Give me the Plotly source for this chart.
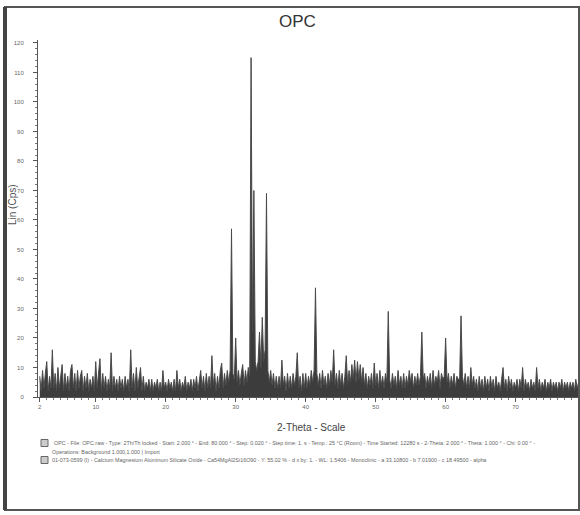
import plotly.graph_objects as go

# 2-Theta grid: 2.0 .. 79.8 step 0.2 (one row = 2 degrees)
two_theta_start = 2.0
two_theta_step = 0.2
intensity_rows = [
    [7, 2, 9, 3, 8, 12, 2, 7, 3, 16],        # 2.0 - 3.8
    [3, 8, 2, 10, 3, 7, 11, 2, 8, 3],        # 4.0 - 5.8
    [7, 2, 9, 11, 3, 8, 2, 9, 3, 7],         # 6.0 - 7.8
    [9, 2, 7, 3, 8, 2, 6, 3, 7, 2],          # 8.0 - 9.8
    [12, 3, 7, 13, 2, 8, 3, 7, 2, 6],        # 10.0 - 11.8
    [3, 15, 2, 7, 3, 6, 2, 7, 3, 6],         # 12.0 - 13.8
    [2, 7, 3, 6, 2, 16, 3, 8, 2, 10],        # 14.0 - 15.8
    [3, 6, 10, 2, 7, 2, 5, 3, 6, 2],         # 16.0 - 17.8
    [6, 2, 5, 3, 6, 2, 5, 2, 9, 3],          # 18.0 - 19.8
    [5, 2, 6, 3, 5, 2, 6, 2, 9, 3],          # 20.0 - 21.8
    [6, 2, 5, 3, 7, 2, 5, 3, 6, 2],          # 22.0 - 23.8
    [6, 3, 7, 2, 6, 9, 3, 7, 2, 8],          # 24.0 - 25.8
    [3, 7, 3, 14, 4, 8, 2, 7, 3, 9],         # 26.0 - 27.8
    [11.5, 3, 8, 4, 9, 5, 9, 57, 8, 6],      # 28.0 - 29.8
    [20, 5, 9, 4, 8, 11, 4, 9, 5, 10],       # 30.0 - 31.8
    [7, 115, 22, 70, 12, 9, 12, 22, 10, 27], # 32.0 - 33.8
    [12, 16, 69, 9, 5, 9, 4, 8, 3, 7],       # 34.0 - 35.8
    [3, 7, 3, 12.5, 4, 7, 2, 8, 3, 7],       # 36.0 - 37.8
    [3, 8, 4, 7, 15, 3, 7, 2, 8, 3],         # 38.0 - 39.8
    [8, 3, 7, 4, 9, 5, 9, 37, 8, 4],         # 40.0 - 41.8
    [8, 3, 9, 4, 7, 3, 8, 4, 9, 5],          # 42.0 - 43.8
    [16, 4, 8, 3, 9, 4, 8, 3, 7, 14],        # 44.0 - 45.8
    [4, 9, 5, 11, 6, 12.5, 5, 12, 6, 11],    # 46.0 - 47.8
    [5, 10, 4, 8, 3, 7, 4, 8, 3, 11.5],      # 48.0 - 49.8
    [4, 8, 3, 9, 4, 7, 3, 8, 5, 29],         # 50.0 - 51.8
    [6, 3, 8, 4, 7, 3, 9, 4, 7, 3],          # 52.0 - 53.8
    [8, 3, 7, 4, 9, 5, 8, 3, 7, 4],          # 54.0 - 55.8
    [8, 4, 7, 22, 6, 8, 3, 7, 4, 8],         # 56.0 - 57.8
    [3, 9, 4, 7, 5, 9, 3, 8, 6, 7],          # 58.0 - 59.8
    [20, 5, 8, 3, 7, 4, 8, 3, 7, 6],         # 60.0 - 61.8
    [6, 27.5, 7, 4, 8, 3, 7, 3, 10, 4],      # 62.0 - 63.8
    [7, 3, 6, 2, 7, 3, 6, 2, 7, 3],          # 64.0 - 65.8
    [6, 2, 7, 3, 6, 2, 7, 3, 5, 2],          # 66.0 - 67.8
    [6, 10, 3, 6, 2, 7, 3, 6, 2, 5],         # 68.0 - 69.8
    [3, 6, 2, 6, 3, 10, 2, 6, 3, 5],         # 70.0 - 71.8
    [2, 6, 3, 5, 2, 10, 3, 6, 2, 5],         # 72.0 - 73.8
    [3, 6, 2, 5, 3, 6, 2, 5, 3, 5],          # 74.0 - 75.8
    [2, 5, 3, 6, 2, 5, 3, 5, 2, 5],          # 76.0 - 77.8
    [3, 5, 2, 6, 3, 5, 2, 5, 3, 5],          # 78.0 - 79.8
]
x_tick_vals = [2, 10, 20, 30, 40, 50, 60, 70]
y_tick_vals = [0, 10, 20, 30, 40, 50, 60, 70, 80, 90, 100, 110, 120]

title_text = "OPC"
x_title = "2-Theta - Scale"
y_title = "Lin (Cps)"
legend_line1 = ("OPC - File: OPC.raw - Type: 2Th/Th locked - Start: 2.000 ° - End: 80.000 ° - Step: 0.020 ° - "
                "Step time: 1. s - Temp.: 25 °C (Room) - Time Started: 12280 s - 2-Theta: 2.000 ° - Theta: 1.000 ° - Chi: 0.00 ° -")
legend_line2 = "Operations: Background 1.000,1.000 | Import"
legend_line3 = ("01-073-0599 (I) - Calcium Magnesium Aluminum Silicate Oxide - Ca54MgAl2Si16O90 - Y: 55.02 % - "
                "d x by: 1. - WL: 1.5406 - Monoclinic - a 33.10800 - b 7.01900 - c 18.49500 - alpha")

intensity = [v for row in intensity_rows for v in row]
two_theta = [round(two_theta_start + i * two_theta_step, 2) for i in range(len(intensity))]

# layout geometry (pixels)
W, H = 580, 515
L, R, T, B = 38, 0, 40, 118
pw, ph = W - L - R, H - T - B


def px(x):
    return (x - L) / pw


def py(y):
    return (H - B - y) / ph


fig = go.Figure(go.Scatter(x=two_theta, y=intensity, mode="lines", fill="tozeroy",
                           fillcolor="#3c3c3c",
                           line=dict(color="#4a4a4a", width=1), hoverinfo="skip"))

fnt = "Liberation Sans, Arial, sans-serif"
fig.update_layout(
    width=W, height=H, margin=dict(l=L, r=R, t=T, b=B),
    paper_bgcolor="white", plot_bgcolor="white", showlegend=False,
    font=dict(family=fnt, color="#444"),
)
fig.update_xaxes(range=[1.75, 79.2], showgrid=False, zeroline=False,
                 showline=True, linecolor="#555", linewidth=1,
                 tickmode="array", tickvals=x_tick_vals, ticks="outside", ticklen=4,
                 tickcolor="#555", tickfont=dict(size=6, color="#666"),
                 minor=dict(dtick=1, ticks="outside", ticklen=2, tickcolor="#777"))
fig.update_yaxes(range=[0, 121], showgrid=False, zeroline=False,
                 showline=True, linecolor="#555", linewidth=1,
                 tickmode="array", tickvals=y_tick_vals, ticks="outside", ticklen=4,
                 tickcolor="#555", tickfont=dict(size=6, color="#666"), ticklabelstandoff=8,
                 minor=dict(dtick=2, ticks="outside", ticklen=2, tickcolor="#777"))

ann = [
    dict(text=title_text, x=px(297), y=py(22), font=dict(size=17, color="#333")),
    dict(text=x_title, x=px(311), y=py(427), font=dict(size=10, color="#444")),
    dict(text=y_title, x=px(12), y=py(205), textangle=-90, font=dict(size=10, color="#555")),
    dict(text=legend_line1, x=px(52), y=py(443), xanchor="left", font=dict(size=5.4, color="#666")),
    dict(text=legend_line2, x=px(50), y=py(452), xanchor="left", font=dict(size=5.4, color="#666")),
    dict(text=legend_line3, x=px(50), y=py(460), xanchor="left", font=dict(size=5.4, color="#666")),
]
for a in ann:
    a.setdefault("xanchor", "center")
    fig.add_annotation(xref="paper", yref="paper", yanchor="middle", showarrow=False, **a)

# page frame and legend icons
fig.add_shape(type="rect", xref="paper", yref="paper", x0=px(5), x1=px(579), y0=py(510), y1=py(7),
              line=dict(color="#555", width=2))
fig.add_shape(type="line", xref="paper", yref="paper", x0=px(5), x1=px(5), y0=py(510), y1=py(7),
              line=dict(color="#444", width=4))
for yc in (443, 460):
    fig.add_shape(type="rect", xref="paper", yref="paper", x0=px(41), x1=px(48), y0=py(yc + 3.5), y1=py(yc - 3.5),
                  line=dict(color="#666", width=1), fillcolor="#ccc")

fig.write_html("out.html", config={"displayModeBar": False},
               post_script="document.body.style.margin='0px';")
